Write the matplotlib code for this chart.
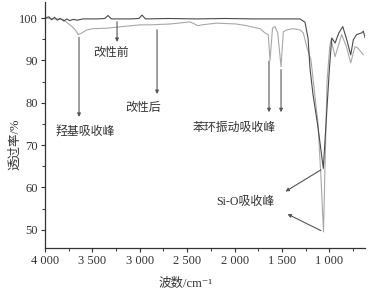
import matplotlib
matplotlib.use('Agg')
import matplotlib.pyplot as plt
from matplotlib.ticker import MultipleLocator, FuncFormatter

plt.rcParams['font.family'] = ['Liberation Serif', 'Noto Sans CJK SC', 'DejaVu Sans']

# FTIR spectrum before modification (darker trace)
wn_before = [4000, 3960, 3930, 3900, 3870, 3840, 3800, 3770, 3740, 3700, 3660, 3600,
             3450, 3370, 3335, 3300, 3100, 3010, 2977, 2940, 2700, 2400, 2100, 1800,
             1500, 1350, 1310, 1257, 1225, 1204, 1173, 1120, 1064, 1000, 975, 940,
             900, 859, 817, 775, 747, 712, 659, 642, 624]
t_before = [100.0, 100.3, 99.6, 100.2, 99.5, 99.9, 99.3, 99.8, 99.4, 99.7, 99.5, 99.8,
            99.8, 99.9, 100.6, 99.8, 99.8, 99.9, 100.7, 99.8, 99.9, 99.8, 99.9, 99.8,
            99.8, 99.8, 99.8, 99.0, 95.2, 88.0, 82.0, 74.2, 64.5, 88.0, 95.3, 94.1,
            96.5, 98.0, 94.9, 91.3, 94.9, 96.1, 96.5, 96.9, 95.4]

# FTIR spectrum after modification (lighter trace)
wn_after = [4000, 3900, 3810, 3760, 3715, 3680, 3650, 3610, 3560, 3490, 3350, 3180,
            3000, 2890, 2680, 2470, 2385, 2347, 2190, 1980, 1870, 1837, 1730, 1680,
            1645, 1626, 1600, 1574, 1545, 1510, 1486, 1450, 1380, 1310, 1275, 1236,
            1194, 1120, 1088, 1062, 1025, 996, 982, 940, 870, 817, 775, 730, 698, 642]
t_after = [100.0, 99.8, 99.7, 98.8, 98.0, 97.2, 96.1, 96.5, 97.2, 97.5, 97.6, 98.0,
           98.4, 98.4, 98.6, 99.1, 98.2, 98.4, 98.8, 98.6, 98.2, 98.0, 97.5, 96.5,
           96.1, 90.0, 97.6, 98.0, 96.5, 88.5, 96.8, 97.2, 97.5, 97.2, 96.5, 93.0,
           90.1, 75.0, 62.0, 49.5, 85.0, 93.3, 94.9, 90.9, 96.1, 93.0, 89.4, 93.3,
           92.9, 91.3]

x_ticks = [4000, 3500, 3000, 2500, 2000, 1500, 1000]
y_ticks = [50, 60, 70, 80, 90, 100]

fig = plt.figure(figsize=(3.74, 2.95), dpi=100)
ax = fig.add_axes([0.1203, 0.1593, 0.8557, 0.834])

ax.plot(wn_after, t_after, color='#a8a8a8', lw=0.8)
ax.plot(wn_before, t_before, color='#4a4a4a', lw=0.8)

ax.set_xlim(4000, 624)
ax.set_ylim(45.7, 103.8)
ax.set_xticks(x_ticks)
ax.set_yticks(y_ticks)
ax.xaxis.set_minor_locator(MultipleLocator(250))
ax.yaxis.set_minor_locator(MultipleLocator(5))
ax.xaxis.set_major_formatter(FuncFormatter(lambda v, p: f'{int(v):,}'.replace(',', ' ')))
ax.tick_params(which='major', direction='out', length=3, width=0.8,
               labelsize=9, colors='#333333', pad=2)
ax.tick_params(which='minor', direction='out', length=2, width=0.7, colors='#333333')

for s in ['top', 'right']:
    ax.spines[s].set_visible(False)
for s in ['left', 'bottom']:
    ax.spines[s].set_color('#333333')
    ax.spines[s].set_linewidth(0.9)

ax.set_xlabel('波数/cm⁻¹', fontsize=9, color='#333333', labelpad=4)
ax.xaxis.set_label_coords(0.44, -0.12)
ax.set_ylabel('透过率/%', fontsize=9, color='#333333', labelpad=4)
ax.yaxis.set_label_coords(-0.075, 0.42)

# annotations (arrow heads point at labels)
arrow = dict(arrowstyle='-|>', color='#555555', lw=0.8, mutation_scale=5)
txt = dict(fontsize=8.6, color='#333333', ha='center', va='center')

ax.annotate('', xy=(3240, 93.7), xytext=(3240, 99.8), arrowprops=arrow)
ax.text(3300, 91.8, '改性前', **txt)

ax.annotate('', xy=(2818, 81.4), xytext=(2818, 97.9), arrowprops=arrow)
ax.text(2961, 78.8, '改性后', **txt)

ax.annotate('', xy=(3641, 76.0), xytext=(3641, 96.1), arrowprops=arrow)
ax.text(3578, 72.9, '羟基吸收峰', **txt)

ax.annotate('', xy=(1637, 77.1), xytext=(1637, 90.5), arrowprops=arrow)
ax.annotate('', xy=(1510, 77.1), xytext=(1510, 88.5), arrowprops=arrow)
ax.text(2001, 74.1, '苯环振动吸收峰', **txt)

ax.annotate('', xy=(1489, 58.7), xytext=(1064, 64.5), arrowprops=arrow)
ax.annotate('', xy=(1468, 54.0), xytext=(1062, 49.5), arrowprops=arrow)
ax.text(1885, 56.6, 'Si-O吸收峰', **txt)

fig.savefig('out.png', dpi=100)
